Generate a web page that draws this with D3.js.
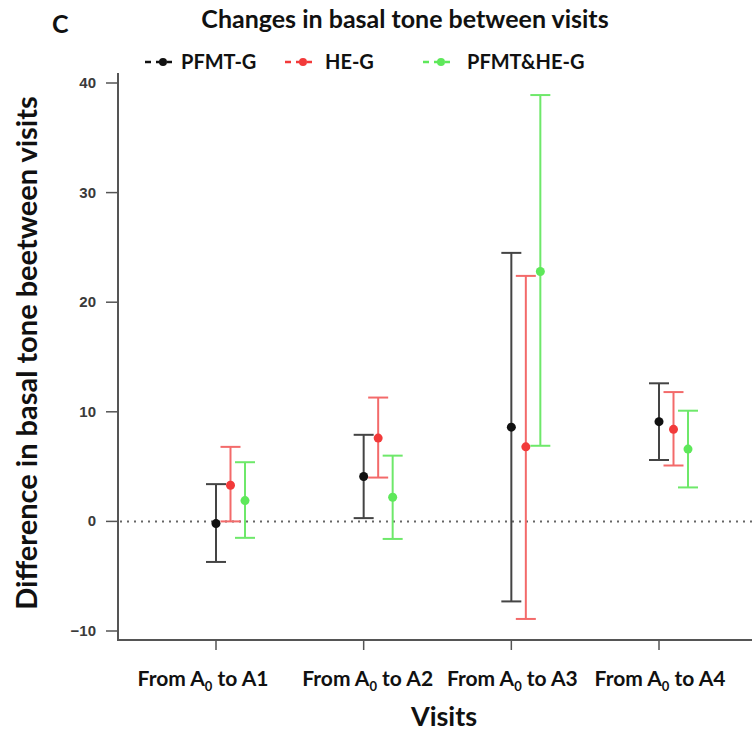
<!DOCTYPE html>
<html>
<head>
<meta charset="utf-8">
<script src="https://cdn.jsdelivr.net/npm/d3@7"></script>
<style>
  body { margin: 0; background: #fff; }
  text { font-family: Lato, "Open Sans", sans-serif; }
</style>
</head>
<body>
<div id="chart"></div>
<script>
// data
var visits = ['A1', 'A2', 'A3', 'A4'];
var groups = ['PFMT-G', 'HE-G', 'PFMT&HE-G'];
var colors = ['#111111', '#f23a3a', '#5ee85a'];
var barColors = ['#444444', '#f36a6a', '#6ee86a'];

// mean, upper, lower per group per visit
var meanPFMT = [-0.2, 4.1, 8.6, 9.1];
var upPFMT   = [3.4, 7.9, 24.5, 12.6];
var loPFMT   = [-3.7, 0.3, -7.3, 5.6];

var meanHE = [3.3, 7.6, 6.8, 8.4];
var upHE   = [6.8, 11.3, 22.4, 11.8];
var loHE   = [0.0, 4.0, -8.9, 5.1];

var meanBoth = [1.9, 2.2, 22.8, 6.6];
var upBoth   = [5.4, 6.0, 38.9, 10.1];
var loBoth   = [-1.5, -1.6, 6.9, 3.1];

var yTicks = [-10, 0, 10, 20, 30, 40];

var W = 752, H = 733;
var svg = d3.select('#chart').append('svg')
  .attr('width', W).attr('height', H);

var y = d3.scaleLinear().domain([-10, 40]).range([631, 83]);
var x = d3.scalePoint().domain(visits).range([216, 659]);
var offset = d3.scalePoint().domain(groups).range([0, 29]);
var axisY = 640;

var axisColor = '#555';

// y axis
svg.append('line')
  .attr('x1', 118).attr('x2', 118)
  .attr('y1', 73).attr('y2', axisY)
  .attr('stroke', axisColor).attr('stroke-width', 2);
svg.selectAll('.ytick').data(yTicks).enter().append('line')
  .attr('x1', 106).attr('x2', 118)
  .attr('y1', d => y(d)).attr('y2', d => y(d))
  .attr('stroke', axisColor).attr('stroke-width', 1.5);
svg.selectAll('.ylab').data(yTicks).enter().append('text')
  .attr('x', 96).attr('y', d => y(d) + 5)
  .attr('text-anchor', 'end')
  .style('font-family', '"Liberation Sans", Arial, sans-serif')
  .style('font-weight', 'bold')
  .style('font-size', '15px')
  .attr('fill', '#3a3a3a')
  .text(d => d < 0 ? '\u2212' + Math.abs(d) : d);

// x axis
svg.append('line')
  .attr('x1', 117).attr('x2', W)
  .attr('y1', axisY).attr('y2', axisY)
  .attr('stroke', axisColor).attr('stroke-width', 2);
svg.selectAll('.xtick').data(visits).enter().append('line')
  .attr('x1', d => x(d)).attr('x2', d => x(d))
  .attr('y1', axisY).attr('y2', axisY + 10)
  .attr('stroke', axisColor).attr('stroke-width', 1.5);

var labelShift = [-13, 4, 1, 1];
var xl = svg.selectAll('.xlab').data(visits).enter().append('text')
  .attr('x', (d, i) => x(d) + labelShift[i])
  .attr('y', 686)
  .attr('text-anchor', 'middle')
  .style('font-weight', 'bold')
  .style('font-size', '21px')
  .attr('fill', '#111');
xl.append('tspan').text('From A');
xl.append('tspan').attr('dy', 5).style('font-size', '13px').text('0');
xl.append('tspan').attr('dy', -5).text(d => ' to ' + d);

// zero line
svg.append('line')
  .attr('x1', 120).attr('x2', W)
  .attr('y1', y(0)).attr('y2', y(0))
  .attr('stroke', '#666').attr('stroke-width', 2)
  .attr('stroke-dasharray', '2,5');

// error bars
var series = [
  { name: groups[0], mean: meanPFMT, up: upPFMT, lo: loPFMT },
  { name: groups[1], mean: meanHE, up: upHE, lo: loHE },
  { name: groups[2], mean: meanBoth, up: upBoth, lo: loBoth }
];

series.forEach(function (s, si) {
  var g = svg.append('g');
  var cx = d => x(d) + offset(s.name);
  var cap = 10;
  var data = visits.map((v, i) => ({ v: v, m: s.mean[i], u: s.up[i], l: s.lo[i] }));
  g.selectAll('.bar').data(data).enter().append('line')
    .attr('x1', d => cx(d.v)).attr('x2', d => cx(d.v))
    .attr('y1', d => y(d.u)).attr('y2', d => y(d.l))
    .attr('stroke', barColors[si]).attr('stroke-width', 2);
  g.selectAll('.capu').data(data).enter().append('line')
    .attr('x1', d => cx(d.v) - cap).attr('x2', d => cx(d.v) + cap)
    .attr('y1', d => y(d.u)).attr('y2', d => y(d.u))
    .attr('stroke', barColors[si]).attr('stroke-width', 2);
  g.selectAll('.capl').data(data).enter().append('line')
    .attr('x1', d => cx(d.v) - cap).attr('x2', d => cx(d.v) + cap)
    .attr('y1', d => y(d.l)).attr('y2', d => y(d.l))
    .attr('stroke', barColors[si]).attr('stroke-width', 2);
  g.selectAll('.pt').data(data).enter().append('circle')
    .attr('cx', d => cx(d.v)).attr('cy', d => y(d.m))
    .attr('r', 4.5)
    .attr('fill', colors[si]);
});

// title, panel letter
svg.append('text')
  .attr('x', 405).attr('y', 28)
  .attr('text-anchor', 'middle')
  .style('font-weight', 'bold').style('font-size', '25px')
  .attr('fill', '#111')
  .text('Changes in basal tone between visits');
svg.append('text')
  .attr('x', 52).attr('y', 33)
  .style('font-weight', 'bold').style('font-size', '25px')
  .attr('fill', '#111')
  .text('C');

// legend
var legX = [145, 285, 423];
var legText = [181, 325, 467];
groups.forEach(function (gname, i) {
  var lg = svg.append('g').attr('transform', 'translate(' + legX[i] + ',62)');
  lg.append('line')
    .attr('x1', 0).attr('x2', 27).attr('y1', 0).attr('y2', 0)
    .attr('stroke', colors[i]).attr('stroke-width', 2.5)
    .attr('stroke-dasharray', '6,5');
  lg.append('circle').attr('cx', 18).attr('cy', 0).attr('r', 4).attr('fill', colors[i]);
  lg.append('text')
    .attr('x', legText[i] - legX[i]).attr('y', 7)
    .style('font-weight', 'bold').style('font-size', '20px')
    .attr('fill', '#111')
    .text(gname);
});

// axis titles
svg.append('text')
  .attr('transform', 'translate(37,353) rotate(-90)')
  .attr('text-anchor', 'middle')
  .style('font-weight', 'bold').style('font-size', '29px')
  .attr('fill', '#111')
  .text('Difference in basal tone beetween visits');
svg.append('text')
  .attr('x', 444).attr('y', 726)
  .attr('text-anchor', 'middle')
  .style('font-weight', 'bold').style('font-size', '27px')
  .attr('fill', '#111')
  .text('Visits');
</script>
</body>
</html>
